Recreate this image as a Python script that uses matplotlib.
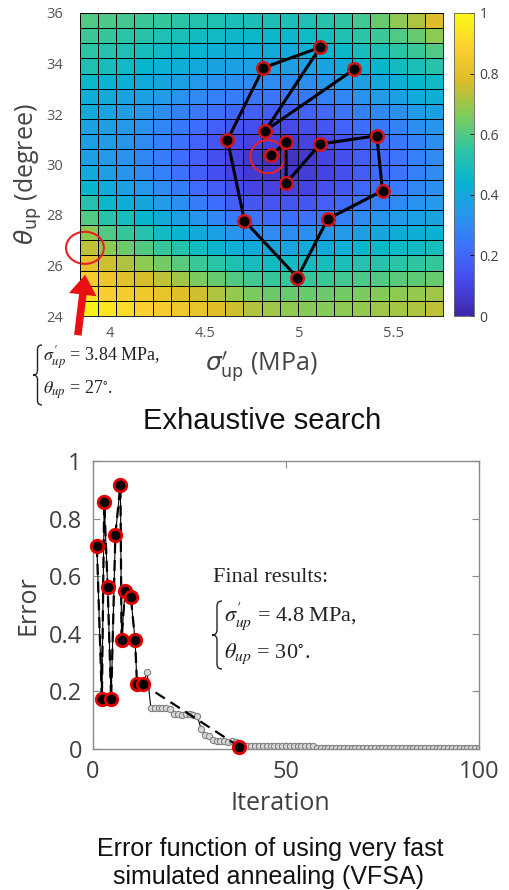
import numpy as np
import matplotlib
matplotlib.use("Agg")
import matplotlib.pyplot as plt
from matplotlib.colors import LinearSegmentedColormap
from matplotlib.patches import Ellipse, PathPatch
from matplotlib.path import Path

plt.rcParams['font.family'] = ['Open Sans', 'DejaVu Sans']

# parula-like colormap (MATLAB default)
parula_pts = [(0.2422, 0.1504, 0.6603), (0.2803, 0.2782, 0.9221),
              (0.2440, 0.4358, 0.9988), (0.1540, 0.5902, 0.9218),
              (0.0297, 0.7082, 0.8163), (0.1938, 0.7758, 0.6251),
              (0.5044, 0.7993, 0.3480), (0.8634, 0.7406, 0.1596),
              (0.9892, 0.8136, 0.1885), (0.9769, 0.9839, 0.0805)]
parula = LinearSegmentedColormap.from_list('parula', parula_pts)

# grid of the exhaustive search (cell edges)
sigma_edges = np.linspace(3.84, 5.76, 21)
theta_edges = np.linspace(24, 36, 21)

# normalised error, top row (theta = 36) first
err_grid = [
    [0.60, 0.59, 0.58, 0.57, 0.56, 0.54, 0.52, 0.51, 0.50, 0.50, 0.50, 0.50, 0.51, 0.53, 0.55, 0.58, 0.63, 0.68, 0.72, 0.78],
    [0.57, 0.56, 0.54, 0.53, 0.51, 0.50, 0.48, 0.47, 0.46, 0.46, 0.46, 0.46, 0.47, 0.49, 0.51, 0.54, 0.57, 0.60, 0.63, 0.68],
    [0.54, 0.52, 0.51, 0.49, 0.47, 0.46, 0.44, 0.42, 0.41, 0.41, 0.41, 0.41, 0.42, 0.44, 0.46, 0.49, 0.51, 0.54, 0.57, 0.60],
    [0.51, 0.49, 0.47, 0.45, 0.44, 0.42, 0.40, 0.38, 0.37, 0.36, 0.36, 0.36, 0.37, 0.39, 0.41, 0.43, 0.45, 0.48, 0.50, 0.53],
    [0.46, 0.44, 0.42, 0.41, 0.39, 0.37, 0.34, 0.32, 0.31, 0.30, 0.30, 0.30, 0.31, 0.33, 0.35, 0.37, 0.40, 0.42, 0.45, 0.47],
    [0.42, 0.40, 0.38, 0.37, 0.35, 0.32, 0.30, 0.27, 0.26, 0.24, 0.24, 0.24, 0.25, 0.27, 0.29, 0.32, 0.35, 0.37, 0.40, 0.42],
    [0.40, 0.38, 0.36, 0.34, 0.31, 0.28, 0.25, 0.22, 0.20, 0.18, 0.18, 0.18, 0.19, 0.21, 0.24, 0.27, 0.30, 0.32, 0.35, 0.37],
    [0.38, 0.36, 0.34, 0.32, 0.29, 0.25, 0.22, 0.18, 0.15, 0.13, 0.12, 0.12, 0.13, 0.16, 0.19, 0.22, 0.25, 0.28, 0.31, 0.33],
    [0.37, 0.35, 0.33, 0.30, 0.27, 0.23, 0.19, 0.15, 0.11, 0.09, 0.08, 0.08, 0.09, 0.12, 0.15, 0.19, 0.22, 0.25, 0.28, 0.31],
    [0.37, 0.34, 0.32, 0.29, 0.26, 0.22, 0.18, 0.13, 0.09, 0.06, 0.05, 0.05, 0.07, 0.10, 0.13, 0.17, 0.21, 0.24, 0.27, 0.30],
    [0.40, 0.36, 0.33, 0.30, 0.27, 0.23, 0.18, 0.14, 0.10, 0.07, 0.06, 0.06, 0.08, 0.10, 0.13, 0.17, 0.21, 0.24, 0.27, 0.30],
    [0.45, 0.40, 0.37, 0.34, 0.30, 0.26, 0.21, 0.17, 0.13, 0.10, 0.09, 0.09, 0.10, 0.13, 0.16, 0.20, 0.23, 0.26, 0.29, 0.31],
    [0.52, 0.46, 0.42, 0.39, 0.35, 0.31, 0.26, 0.22, 0.18, 0.16, 0.15, 0.15, 0.16, 0.18, 0.21, 0.24, 0.27, 0.30, 0.32, 0.34],
    [0.60, 0.53, 0.49, 0.45, 0.41, 0.37, 0.33, 0.29, 0.25, 0.23, 0.22, 0.22, 0.23, 0.25, 0.27, 0.30, 0.33, 0.35, 0.37, 0.38],
    [0.68, 0.60, 0.56, 0.52, 0.48, 0.44, 0.40, 0.37, 0.33, 0.31, 0.30, 0.30, 0.31, 0.33, 0.35, 0.37, 0.39, 0.41, 0.42, 0.43],
    [0.74, 0.68, 0.64, 0.60, 0.56, 0.52, 0.48, 0.45, 0.42, 0.40, 0.39, 0.39, 0.40, 0.41, 0.43, 0.45, 0.46, 0.47, 0.48, 0.49],
    [0.80, 0.76, 0.72, 0.68, 0.65, 0.61, 0.57, 0.54, 0.51, 0.49, 0.48, 0.48, 0.48, 0.49, 0.50, 0.52, 0.53, 0.54, 0.55, 0.56],
    [0.86, 0.83, 0.80, 0.77, 0.74, 0.70, 0.66, 0.63, 0.60, 0.58, 0.56, 0.56, 0.56, 0.57, 0.58, 0.59, 0.60, 0.61, 0.62, 0.63],
    [0.92, 0.88, 0.86, 0.84, 0.82, 0.79, 0.76, 0.72, 0.69, 0.66, 0.64, 0.63, 0.63, 0.64, 0.65, 0.66, 0.67, 0.68, 0.69, 0.70],
    [0.98, 0.94, 0.92, 0.89, 0.86, 0.84, 0.82, 0.79, 0.76, 0.73, 0.70, 0.68, 0.67, 0.67, 0.68, 0.69, 0.70, 0.71, 0.72, 0.74],
]

# VFSA path over the grid
path_sigma = [5.29, 4.82, 5.11, 4.81, 4.62, 4.71, 4.99, 5.15, 5.44, 5.41, 5.11, 4.93, 4.93, 4.85]
path_theta = [33.77, 31.34, 34.64, 33.83, 30.97, 27.77, 25.52, 27.84, 28.96, 31.14, 30.81, 29.26, 30.88, 30.36]

# accepted models (red dots)
iter_red = [1.0, 2.3, 2.9, 3.8, 4.7, 5.8, 7.1, 7.4, 8.3, 9.8, 10.9, 11.4, 12.9, 37.9]
err_red = [0.705, 0.173, 0.857, 0.562, 0.173, 0.744, 0.917, 0.377, 0.55, 0.527, 0.378, 0.225, 0.225, 0.008]

# all iterations (grey circles), iterations 14..100 after the early accepted ones
iter_all = iter_red[:13] + list(range(14, 101))
err_all = err_red[:13] + [
    0.268, 0.141, 0.143, 0.141, 0.143, 0.141, 0.138,
    0.120, 0.120, 0.118, 0.120, 0.120, 0.118, 0.115,
    0.070, 0.050, 0.045,
    0.030, 0.028, 0.028, 0.028, 0.026, 0.028, 0.026,
    0.010, 0.010, 0.010, 0.010, 0.010, 0.010, 0.010, 0.010, 0.010, 0.010,
    0.010, 0.010, 0.010, 0.010, 0.010, 0.010, 0.010, 0.010, 0.010, 0.010,
    0.004, 0.004, 0.004, 0.004, 0.004, 0.004, 0.004, 0.004, 0.004, 0.004,
    0.004, 0.004, 0.004, 0.004, 0.004, 0.004, 0.004, 0.004, 0.004, 0.004,
    0.004, 0.004, 0.004, 0.003, 0.003, 0.003, 0.003, 0.003, 0.003, 0.003,
    0.003, 0.003, 0.003, 0.003, 0.003, 0.003, 0.003, 0.003, 0.003, 0.003,
    0.003, 0.003, 0.003]

W, H = 509, 890
fig = plt.figure(figsize=(W / 100, H / 100), dpi=100)


def px_axes(l, t, r, b, **kw):
    return fig.add_axes([l / W, 1 - b / H, (r - l) / W, (b - t) / H], **kw)


# ---- top: exhaustive search map ----
ax1 = px_axes(80, 13, 443, 316)
mesh = ax1.pcolormesh(sigma_edges, theta_edges, np.array(err_grid)[::-1], cmap=parula,
                      vmin=0, vmax=1, edgecolors='k', linewidth=0.6)
ax1.plot(path_sigma, path_theta, '-o', color='k', lw=2.2, ms=9, mfc='k', mec='#d01515', mew=1.8)
ax1.add_patch(Ellipse((4.833, 30.31), 0.185, 1.31, fill=False, ec='#e82020', lw=1.5, zorder=1.5))
ax1.add_patch(Ellipse((3.866, 26.70), 0.20, 1.27, fill=False, ec='#e82020', lw=1.5, clip_on=False))
ax1.set_xlim(3.84, 5.76)
ax1.set_ylim(24, 36)
ax1.set_xticks([4, 4.5, 5, 5.5])
ax1.set_xticklabels(['4', '4.5', '5', '5.5'])
ax1.set_yticks([24, 26, 28, 30, 32, 34, 36])
ax1.tick_params(length=0, labelsize=10.5, labelcolor='#555555')
ax1.tick_params(axis='x', pad=7)
ax1.tick_params(axis='y', pad=12)
for s in ax1.spines.values():
    s.set_linewidth(0.6)
ax1.set_ylabel(r'$\theta_{\mathrm{up}}$ (degree)', fontsize=18, color='#454545', va='center', ha='center')
ax1.yaxis.set_label_coords(-0.143, 0.469)
ax1.set_xlabel(r'$\sigma^{\prime}_{\mathrm{up}}$ (MPa)', fontsize=18, color='#454545', va='center')
ax1.xaxis.set_label_coords(0.499, -0.17)

cax = px_axes(454, 13, 474, 316)
cb = fig.colorbar(mesh, cax=cax, ticks=[0, 0.2, 0.4, 0.6, 0.8, 1])
cb.ax.set_yticklabels(['0', '0.2', '0.4', '0.6', '0.8', '1'])
cb.ax.tick_params(direction='in', length=3, width=0.6, labelsize=10, labelcolor='#404040', pad=4)
cb.outline.set_linewidth(0.6)
cb.outline.set_edgecolor('#606060')

# ---- bottom: VFSA error curve ----
ax2 = px_axes(93, 461, 479, 749)
ax2.plot(iter_all, err_all, '-o', color='k', lw=0.8, ms=4.5, mfc='#d8d8d8', mec='#808080', mew=0.8, zorder=2)
ax2.plot(iter_red, err_red, '--', color='k', lw=1.6, dashes=(5, 3), zorder=3)
ax2.plot(iter_red, err_red, 'o', ms=9, mfc='k', mec='#e00000', mew=2.0, zorder=4, clip_on=False)
ax2.set_xlim(0, 100)
ax2.set_ylim(0, 1)
ax2.set_xticks([0, 50, 100])
ax2.set_yticks([0, 0.2, 0.4, 0.6, 0.8, 1])
ax2.set_yticklabels(['0', '0.2', '0.4', '0.6', '0.8', '1'])
for s in ax2.spines.values():
    s.set_color('#8a8a8a')
    s.set_linewidth(1.0)
ax2.tick_params(direction='in', top=True, right=True, length=5, color='#8a8a8a',
                labelcolor='#404040', labelsize=17)
ax2.tick_params(axis='x', pad=8)
ax2.tick_params(axis='y', pad=8)
ax2.set_xlabel('Iteration', fontsize=18, color='#404040', va='center')
ax2.xaxis.set_label_coords(0.484, -0.1875)
ax2.set_ylabel('Error', fontsize=18, color='#404040', va='center', ha='center')
ax2.yaxis.set_label_coords(-0.168, 0.5)

# ---- overlay in pixel units for annotations ----
ov = fig.add_axes([0, 0, 1, 1], zorder=10)
ov.set_xlim(0, W)
ov.set_ylim(H, 0)
ov.axis('off')


def brace(x, y0, y1, w, lw=1.0):
    ym = (y0 + y1) / 2
    xm = x + w / 2
    verts = [(x + w, y0), (xm, y0), (xm, y0 + w / 2), (xm, ym - w / 2),
             (xm, ym), (x, ym), (xm, ym), (xm, ym + w / 2),
             (xm, y1 - w / 2), (xm, y1), (x + w, y1)]
    codes = [Path.MOVETO, Path.CURVE3, Path.CURVE3, Path.LINETO,
             Path.CURVE3, Path.CURVE3, Path.CURVE3, Path.CURVE3,
             Path.LINETO, Path.CURVE3, Path.CURVE3]
    ov.add_patch(PathPatch(Path(verts, codes), fill=False, lw=lw, ec='#222222'))


serif = dict(family='Liberation Serif', math_fontfamily='stix', color='#222222', va='center')

ov.annotate('', xy=(85.5, 272), xytext=(77.5, 338),
            arrowprops=dict(arrowstyle='simple,head_width=1.0,head_length=0.72,tail_width=0.27',
                            mutation_scale=20, color='#e81010', lw=0))

brace(33, 345, 405, 9)
ov.text(43, 358, r'$\sigma^{\prime}_{up}$ = 3.84 MPa,', fontsize=13, **serif)
ov.text(43, 390, r'$\theta_{up}$ = 27$^{\circ}$.', fontsize=13, **serif)

ov.text(262, 421, 'Exhaustive search', family='Liberation Sans', fontsize=21,
        ha='center', va='center', color='#111111')

ov.text(213, 577, 'Final results:', fontsize=16, **serif)
brace(212, 601, 669, 10)
ov.text(224, 617, r'$\sigma^{\prime}_{up}$ = 4.8 MPa,', fontsize=16, **serif)
ov.text(224, 654, r'$\theta_{up}$ = 30$^{\circ}$.', fontsize=16, **serif)

ov.text(270, 849, 'Error function of using very fast', family='Liberation Sans', fontsize=18,
        ha='center', va='center', color='#111111')
ov.text(269, 877, 'simulated annealing (VFSA)', family='Liberation Sans', fontsize=18,
        ha='center', va='center', color='#111111')

fig.savefig('out.png', dpi=100)
